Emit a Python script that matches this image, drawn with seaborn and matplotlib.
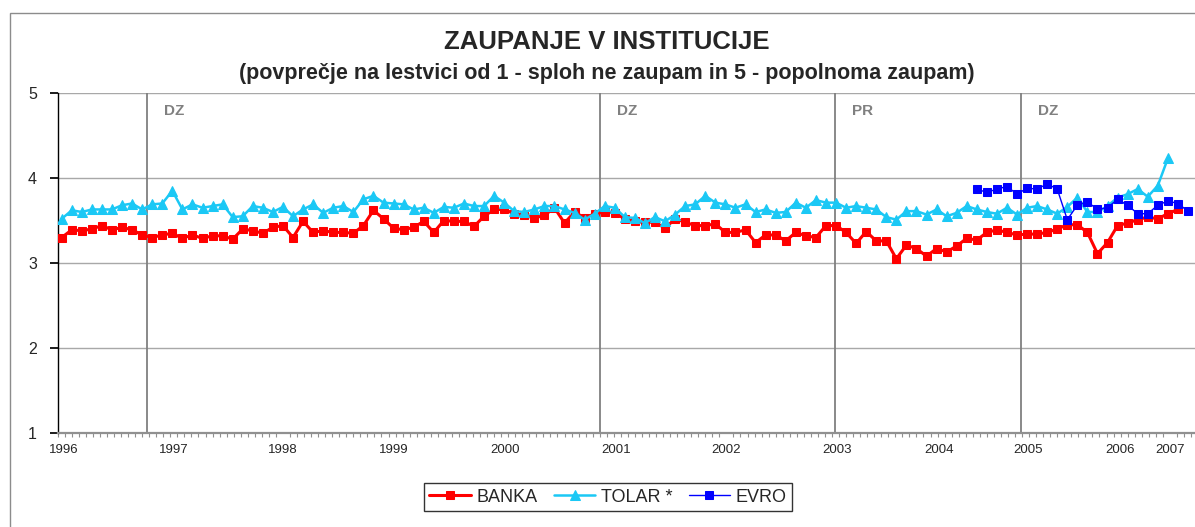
import numpy as np
import pandas as pd
import matplotlib
matplotlib.use("Agg")
import matplotlib.pyplot as plt
import seaborn as sns
from matplotlib.patches import Rectangle

# survey values, one per survey wave (index along the category axis)
banka = [3.30, 3.39, 3.38, 3.40, 3.44, 3.39, 3.42, 3.39, 3.33, 3.30, 3.33, 3.35, 3.29,
         3.33, 3.29, 3.32, 3.32, 3.28, 3.40, 3.38, 3.35, 3.42, 3.44, 3.30, 3.49, 3.36,
         3.38, 3.36, 3.36, 3.35, 3.44, 3.62, 3.52, 3.41, 3.39, 3.42, 3.49, 3.36, 3.50,
         3.49, 3.49, 3.43, 3.55, 3.63, 3.63, 3.58, 3.56, 3.53, 3.56, 3.65, 3.47, 3.60,
         3.53, 3.58, 3.60, 3.59,
         3.52, 3.49, 3.48, 3.48, 3.41, 3.52, 3.48, 3.44, 3.44, 3.46, 3.36, 3.36, 3.39,
         3.24, 3.33, 3.33, 3.26, 3.36, 3.32, 3.30, 3.44, 3.44, 3.36, 3.23, 3.37, 3.26,
         3.26, 3.05, 3.21, 3.17,
         3.08, 3.17, 3.13, 3.20, 3.29, 3.27, 3.36, 3.39, 3.36, 3.33, 3.34, 3.34, 3.36,
         3.40, 3.45, 3.45, 3.36, 3.11, 3.24, 3.44, 3.47, 3.51, 3.54, 3.52, 3.58, 3.63]
tolar = [3.52, 3.62, 3.60, 3.63, 3.63, 3.63, 3.68, 3.70, 3.63, 3.69, 3.70, 3.85, 3.63,
         3.69, 3.65, 3.67, 3.69, 3.54, 3.55, 3.67, 3.65, 3.60, 3.66, 3.55, 3.63, 3.69,
         3.59, 3.65, 3.67, 3.60, 3.75, 3.79, 3.71, 3.70, 3.69, 3.63, 3.65, 3.59, 3.66,
         3.65, 3.70, 3.67, 3.67, 3.79, 3.71, 3.61, 3.60, 3.63, 3.67, 3.67, 3.63, 3.59,
         3.51, 3.58, 3.67, 3.65,
         3.54, 3.53, 3.47, 3.54, 3.49, 3.57, 3.67, 3.69, 3.79, 3.71, 3.69, 3.65, 3.69,
         3.60, 3.63, 3.59, 3.60, 3.71, 3.65, 3.74, 3.71, 3.71, 3.65, 3.67, 3.65, 3.63,
         3.54, 3.51, 3.61, 3.61,
         3.57, 3.63, 3.55, 3.59, 3.67, 3.63, 3.60, 3.58, 3.65, 3.57, 3.65, 3.67, 3.63,
         3.58, 3.66, 3.77, 3.60, 3.60, 3.67, 3.77, 3.81, 3.87, 3.78, 3.91, 4.23]
evro_start = 91
evro = [3.87, 3.83, 3.87, 3.90, 3.81, 3.88, 3.87, 3.93, 3.87, 3.51, 3.68, 3.72, 3.63,
        3.65, 3.75, 3.68, 3.58, 3.58, 3.68, 3.73, 3.70, 3.61]

# year labels and where they sit on the category axis
years = ["1996", "1997", "1998", "1999", "2000", "2001", "2002", "2003", "2004",
         "2005", "2006", "2007"]
year_pos = [0.2, 11.1, 22.0, 33.0, 44.1, 55.1, 66.1, 77.1, 87.2, 96.1, 105.2, 110.2]

# event markers (DZ = parliamentary elections, PR = presidential)
event_pos = [8.5, 53.5, 76.85, 95.35]
event_lab = ["DZ", "DZ", "PR", "DZ"]

df_b = pd.DataFrame({"x": np.arange(len(banka)), "y": banka})
df_t = pd.DataFrame({"x": np.arange(len(tolar)), "y": tolar})
df_e = pd.DataFrame({"x": np.arange(len(evro)) + evro_start, "y": evro})

sns.set_theme(style="white")
plt.rcParams["font.family"] = ["Liberation Sans", "DejaVu Sans"]

fig = plt.figure(figsize=(11.95, 5.27), dpi=100)
ax = fig.add_axes([57.7 / 1195, 1 - 433 / 527, 1 - 57.7 / 1195, (433 - 93) / 527])

red, cyan, blue = "#FF0000", "#1BC8F5", "#0000FF"
sns.lineplot(data=df_b, x="x", y="y", ax=ax, color=red, lw=2.2, marker="s",
             markersize=5.5, markeredgecolor=red, label="BANKA", zorder=3)
sns.lineplot(data=df_t, x="x", y="y", ax=ax, color=cyan, lw=1.8, marker="^",
             markersize=6.5, markeredgecolor=cyan, label="TOLAR *", zorder=4)
sns.lineplot(data=df_e, x="x", y="y", ax=ax, color=blue, lw=1.0, marker="s",
             markersize=5.5, markeredgecolor=blue, label="EVRO", zorder=5)

for xp, lab in zip(event_pos, event_lab):
    ax.axvline(xp, color="#808080", lw=1.3, zorder=2)
    ax.text(xp + 1.7, 4.79, lab, color="#808080", fontsize=11, fontweight="bold",
            va="center", ha="left")

ax.set_xlim(-0.4, 112.7)
ax.set_ylim(1, 5)
ax.set_yticks([1, 2, 3, 4, 5])
ax.yaxis.grid(True, color="#A8A8A8", lw=1)
ax.set_axisbelow(True)

ax.set_xticks(year_pos)
ax.set_xticklabels(years)
ax.set_xticks(np.arange(-0.4, 112.7, 0.7), minor=True)
ax.tick_params(axis="x", which="major", length=0, pad=8, labelsize=9.5)
ax.tick_params(axis="x", which="minor", bottom=True, length=3, color="#909090",
               direction="out", width=0.8)
ax.tick_params(axis="y", left=True, length=6, color="black", direction="out",
               pad=9, labelsize=11.5)
ax.set_xlabel("")
ax.set_ylabel("")

for s in ["top", "right"]:
    ax.spines[s].set_visible(False)
ax.spines["left"].set_color("black")
ax.spines["left"].set_linewidth(1)
ax.spines["bottom"].set_color("#909090")
ax.spines["bottom"].set_linewidth(1.6)

fig.text(607 / 1195, 1 - 42 / 527, "ZAUPANJE V INSTITUCIJE", ha="center", va="center",
         fontsize=18.5, fontweight="bold")
fig.text(607 / 1195, 1 - 73 / 527,
         "(povprečje na lestvici od 1 - sploh ne zaupam in 5 - popolnoma zaupam)",
         ha="center", va="center", fontsize=15.5, fontweight="bold")

fig.patches.append(Rectangle((10 / 1195, -0.1), 2, 1.1 - 12.5 / 527, transform=fig.transFigure,
                             fill=False, edgecolor="#8C8C8C", lw=1))

handles, labels = ax.get_legend_handles_labels()
ax.legend_.remove()
leg = fig.legend(handles, labels, loc="center", bbox_to_anchor=(608 / 1195, 1 - 497 / 527),
                 ncol=3, frameon=True, fancybox=False, edgecolor="black", fontsize=13,
                 handlelength=2.3, handletextpad=0.3, columnspacing=0.9, borderpad=0.3)
leg.get_frame().set_linewidth(1)

fig.savefig("out.png", dpi=100)
